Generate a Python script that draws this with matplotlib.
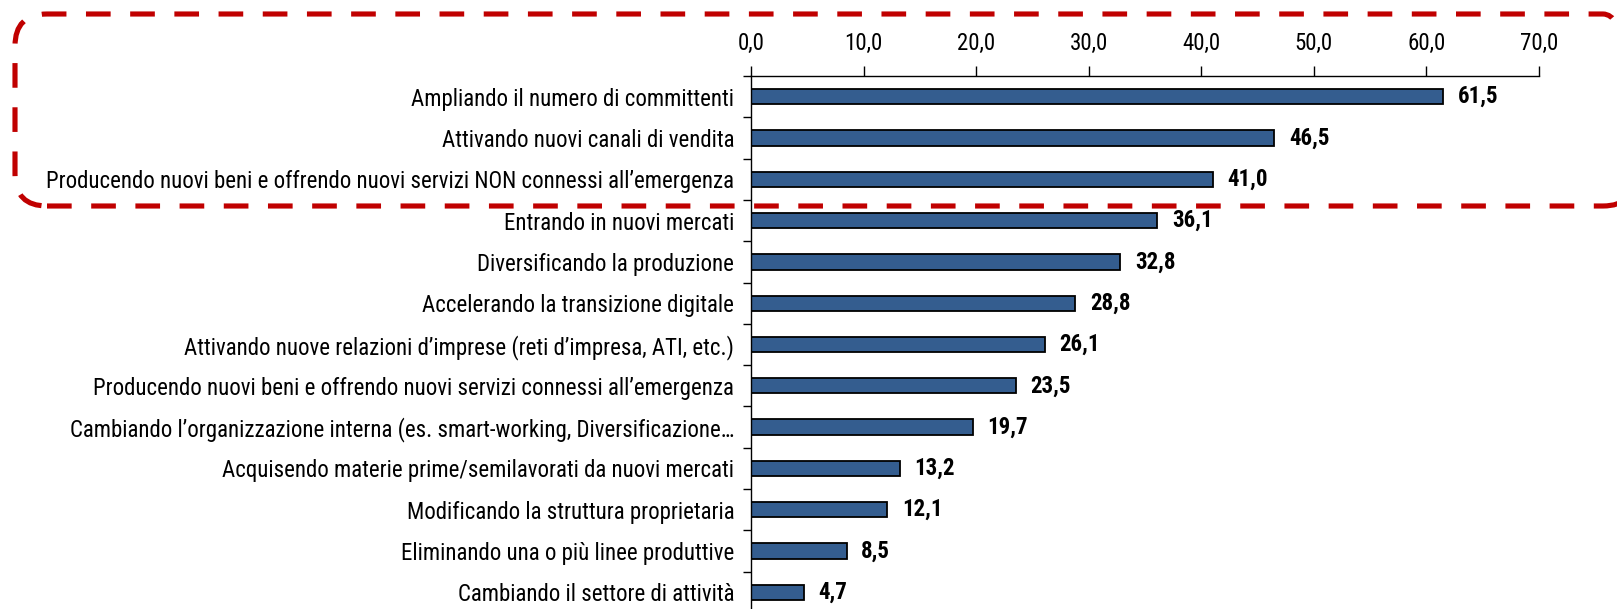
import matplotlib.pyplot as plt
import matplotlib.patches as mpatches
import matplotlib.transforms as mtransforms
import numpy as np

plt.rcParams['font.family'] = ['Roboto Condensed', 'Archivo Narrow', 'Liberation Sans', 'DejaVu Sans']

categories = [
    "Ampliando il numero di committenti",
    "Attivando nuovi canali di vendita",
    "Producendo nuovi beni e offrendo nuovi servizi NON connessi all\u2019emergenza",
    "Entrando in nuovi mercati",
    "Diversificando la produzione",
    "Accelerando la transizione digitale",
    "Attivando nuove relazioni d\u2019imprese (reti d\u2019impresa, ATI, etc.)",
    "Producendo nuovi beni e offrendo nuovi servizi connessi all\u2019emergenza",
    "Cambiando l\u2019organizzazione interna (es. smart-working, Diversificazione\u2026",
    "Acquisendo materie prime/semilavorati da nuovi mercati",
    "Modificando la struttura proprietaria",
    "Eliminando una o pi\u00f9 linee produttive",
    "Cambiando il settore di attivit\u00e0",
]
values = [61.5, 46.5, 41.0, 36.1, 32.8, 28.8, 26.1, 23.5, 19.7, 13.2, 12.1, 8.5, 4.7]
xticks = [0, 10, 20, 30, 40, 50, 60, 70]

W, H = 1617, 609
fig = plt.figure(figsize=(W / 100, H / 100), dpi=100)
ax = fig.add_axes([751 / W, -4 / H, (1539 - 751) / W, (609 - 76 + 4) / H])

y = np.arange(len(categories))
ax.barh(y, values, height=0.37, color='#345d8f', edgecolor='black', linewidth=1.3)
for yi, v in zip(y, values):
    ax.text(v + 1.3, yi, f"{v:.1f}".replace('.', ','), va='center', ha='left',
            fontsize=16.5, fontweight='bold')

ax.set_xlim(0, 70)
ax.set_ylim(len(categories) - 0.5, -0.5)
ax.xaxis.tick_top()
ax.set_xticks(xticks)
ax.set_xticklabels([f"{t:.1f}".replace('.', ',') for t in xticks], fontsize=16.5)
ax.tick_params(axis='x', direction='out', length=7, width=1, pad=8)

ax.set_yticks(y)
ax.set_yticklabels(categories, fontsize=16.5)
ax.tick_params(axis='y', which='major', length=0, pad=12)
ax.set_yticks(np.arange(-0.5, len(categories), 1.0), minor=True)
ax.tick_params(axis='y', which='minor', direction='out', length=6, width=1)

for s in ['right', 'bottom']:
    ax.spines[s].set_visible(False)
for s in ['top', 'left']:
    ax.spines[s].set_linewidth(1)

# dashed highlight box around the first three rows
box = mpatches.FancyBboxPatch((15, H - 206), 1635 - 15, 206 - 14,
                              boxstyle='round,pad=0,rounding_size=32',
                              transform=mtransforms.IdentityTransform(),
                              fill=False, edgecolor='#c00000', linewidth=3.7,
                              linestyle=(0, (4.8, 3.8)), capstyle='butt', zorder=10)
fig.add_artist(box)

fig.savefig('out.png', dpi=100)
